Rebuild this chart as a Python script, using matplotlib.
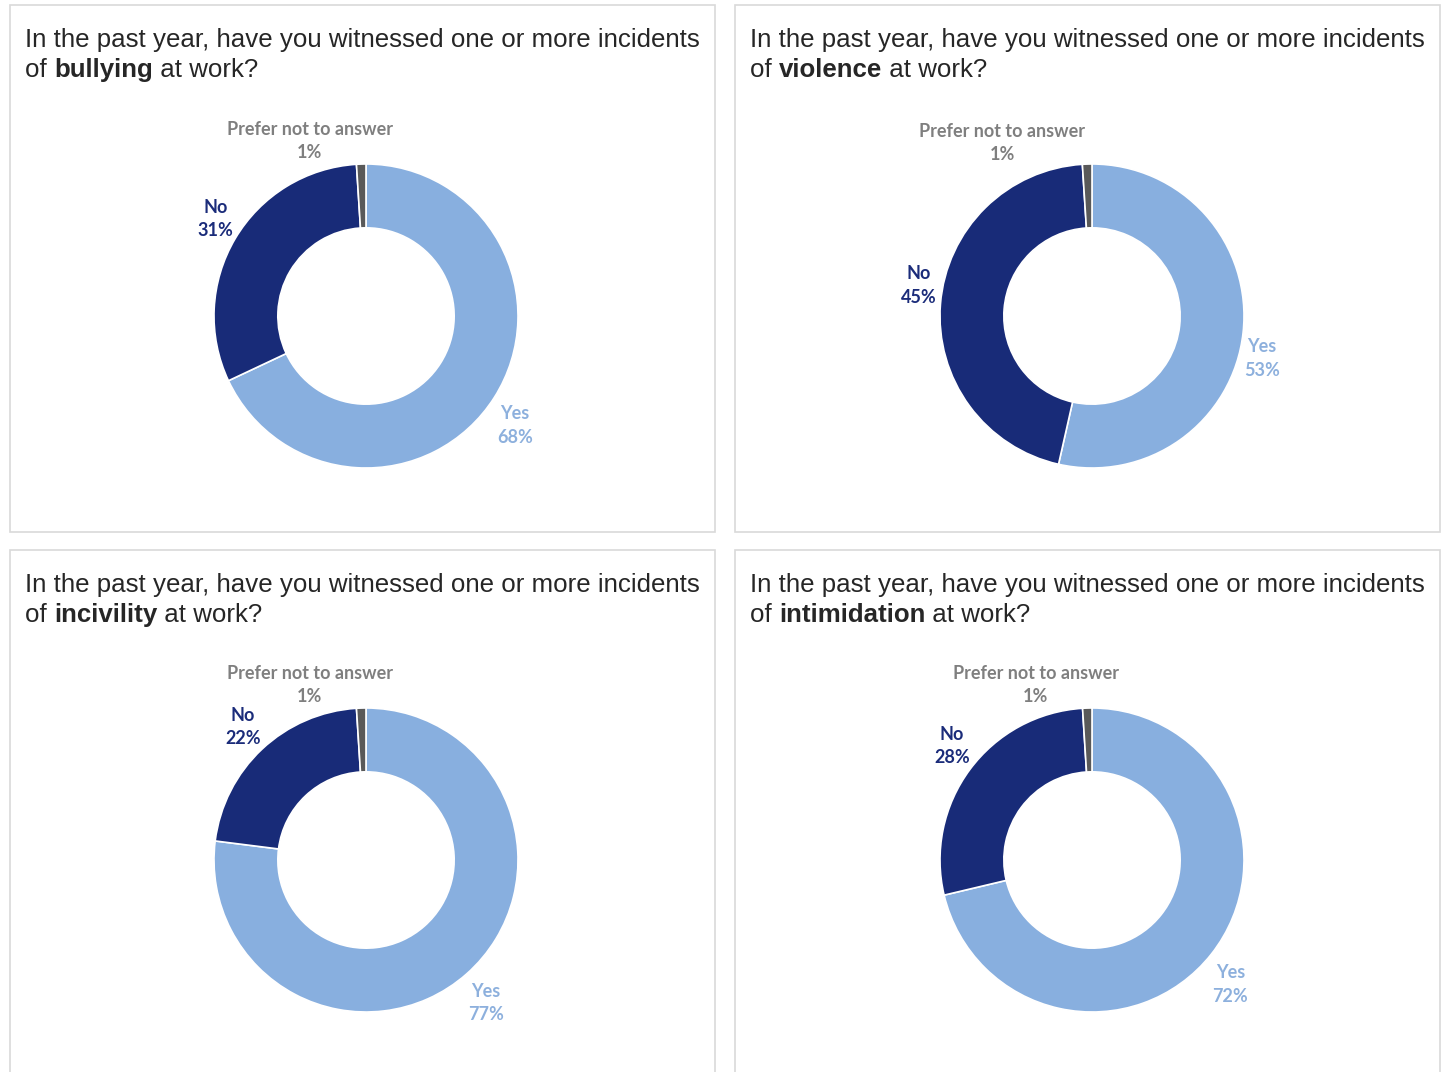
import matplotlib.pyplot as plt
from matplotlib.patches import Rectangle

# data
topics = ['bullying', 'violence', 'incivility', 'intimidation']
answers = ['Yes', 'No', 'Prefer not to answer']
yes_vals = [68, 53, 77, 72]
no_vals = [31, 45, 22, 28]
pref_vals = [1, 1, 1, 1]

colors = ['#88AFDF', '#182B78', '#595959']
label_colors = ['#8DB0DD', '#1B2C7A', '#7F7F7F']

# label positions in donut radius units (yes, no, prefer)
label_pos = [
    [(0.98, -0.72), (-0.99, 0.64), (-0.37, 1.15)],
    [(1.12, -0.28), (-1.14, 0.20), (-0.59, 1.14)],
    [(0.79, -0.94), (-0.81, 0.875), (-0.37, 1.15)],
    [(0.91, -0.82), (-0.92, 0.75), (-0.37, 1.15)],
]

W, H = 1443, 1072
fig = plt.figure(figsize=(W / 100, H / 100), dpi=100)
renderer = fig.canvas.get_renderer()

boxes = [(10, 5, 705, 527), (735, 5, 705, 527), (10, 550, 705, 530), (735, 550, 705, 530)]
centers = [(366, 316), (1092, 316), (366, 860), (1092, 860)]
R = 152
k = 1.4
tfont = dict(family='Liberation Sans', fontsize=18.6, color='#262626', va='center')

for i, topic in enumerate(topics):
    bx, by, bw, bh = boxes[i]
    fig.patches.append(Rectangle((bx / W, 1 - (by + bh) / H), bw / W, bh / H,
                                 transform=fig.transFigure, fill=False,
                                 edgecolor='#D9D9D9', linewidth=1.2))
    tx = (bx + 15) / W
    fig.text(tx, 1 - (by + 35) / H,
             'In the past year, have you witnessed one or more incidents', **tfont)
    # second line: plain / bold / plain pieces side by side
    x = tx
    for piece, wt in [('of ', 'normal'), (topic, 'bold'), (' at work?', 'normal')]:
        t = fig.text(x, 1 - (by + 65) / H, piece, fontweight=wt, **tfont)
        x += t.get_window_extent(renderer).width / W

    cx, cy = centers[i]
    side = 2 * k * R
    ax = fig.add_axes([(cx - side / 2) / W, 1 - (cy + side / 2) / H, side / W, side / H])
    vals = [yes_vals[i], no_vals[i], pref_vals[i]]
    ax.pie(vals, colors=colors, startangle=90, counterclock=False, radius=1,
           wedgeprops=dict(width=0.42, edgecolor='white', linewidth=1.2))
    ax.set_xlim(-k, k)
    ax.set_ylim(-k, k)
    ax.set_aspect('equal')
    ax.axis('off')
    for j, ans in enumerate(answers):
        lx, ly = label_pos[i][j]
        ax.text(lx, ly, f'{ans}\n{vals[j]}%', ha='center', va='center',
                family='Lato', fontweight='bold', fontsize=13,
                color=label_colors[j], linespacing=1.45, clip_on=False)

fig.savefig('out.png', dpi=100)
